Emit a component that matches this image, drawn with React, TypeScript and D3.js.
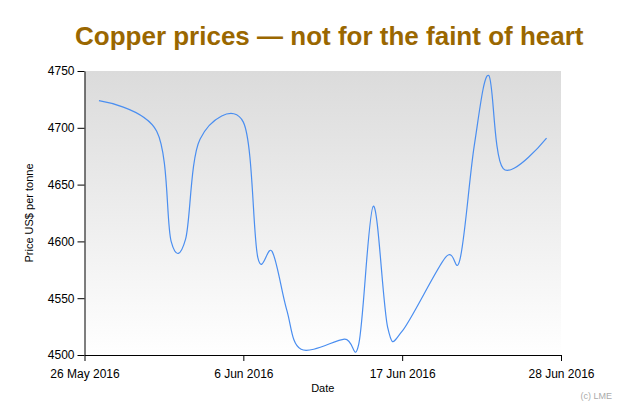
import React, { useEffect, useRef } from "react";
import * as d3 from "d3";

const dates: string[] = [
  "2016-05-27", "2016-05-31", "2016-06-01", "2016-06-02", "2016-06-03",
  "2016-06-06", "2016-06-07", "2016-06-08", "2016-06-09", "2016-06-10",
  "2016-06-13", "2016-06-14", "2016-06-15", "2016-06-16", "2016-06-17",
  "2016-06-20", "2016-06-21", "2016-06-22", "2016-06-23", "2016-06-24",
  "2016-06-27",
];
const prices: number[] = [
  4724, 4697, 4600, 4602, 4690,
  4705, 4586, 4591, 4540, 4505,
  4514, 4510, 4631, 4524, 4521,
  4586, 4584, 4685, 4746, 4664,
  4691,
];
const xTickDates: string[] = ["2016-05-26", "2016-06-06", "2016-06-17", "2016-06-28"];
const yTicks: number[] = [4500, 4550, 4600, 4650, 4700, 4750];

const W = 627;
const H = 405;
const M = { left: 84.5, top: 71, right: 66, bottom: 50 };

export default function App() {
  const ref = useRef<SVGSVGElement>(null);
  useEffect(() => {
    const svg = d3.select(ref.current);
    svg.selectAll("*").remove();
    const parse = d3.utcParse("%Y-%m-%d");
    const iw = W - M.left - M.right;
    const ih = H - M.top - M.bottom;
    const x = d3.scaleUtc().domain([parse(xTickDates[0])!, parse(xTickDates[3])!]).range([0, iw]);
    const y = d3.scaleLinear().domain([4500, 4750]).range([ih, 0]);

    const defs = svg.append("defs");
    const grad = defs.append("linearGradient").attr("id", "bg").attr("x1", 0).attr("y1", 0).attr("x2", 0).attr("y2", 1);
    grad.append("stop").attr("offset", "0%").attr("stop-color", "#dbdbdb");
    grad.append("stop").attr("offset", "100%").attr("stop-color", "#ffffff");

    svg.append("text")
      .attr("x", 75).attr("y", 45)
      .attr("font-family", "'Liberation Sans', Arial, sans-serif")
      .attr("font-weight", "bold").attr("font-size", 26)
      .attr("fill", "#9a6700")
      .text("Copper prices \u2014 not for the faint of heart");

    const g = svg.append("g").attr("transform", `translate(${M.left},${M.top})`);
    g.append("rect").attr("width", iw).attr("height", ih).attr("fill", "url(#bg)");

    const data = dates.map((d, i) => ({ d: parse(d)!, v: prices[i] }));
    const line = d3.line<{ d: Date; v: number }>()
      .x((p) => x(p.d)).y((p) => y(p.v))
      .curve(d3.curveCardinal.tension(0));
    g.append("path").datum(data).attr("d", line).attr("fill", "none")
      .attr("stroke", "#4a8ef0").attr("stroke-width", 1.2);

    const font = "'Liberation Sans', Arial, sans-serif";
    const xa = g.append("g").attr("transform", `translate(0,${ih})`)
      .call(d3.axisBottom(x).tickValues(xTickDates.map((s) => parse(s)!)).tickFormat(d3.utcFormat("%-d %b %Y") as any).tickSize(6).tickSizeOuter(0));
    const ya = g.append("g")
      .call(d3.axisLeft(y).tickValues(yTicks).tickFormat(d3.format("d")).tickSize(7).tickSizeOuter(0));
    [xa, ya].forEach((a) => {
      a.selectAll("text").attr("font-family", font).attr("font-size", 12).attr("fill", "#000");
      a.selectAll("line").attr("stroke", "#000");
      a.select(".domain").attr("stroke", "#000");
    });
    xa.selectAll("text").attr("dy", "1.2em");

    svg.append("text").attr("x", M.left + iw / 2).attr("y", 392).attr("text-anchor", "middle")
      .attr("font-family", font).attr("font-size", 11).text("Date");
    svg.append("text").attr("transform", `translate(33,${M.top + ih / 2}) rotate(-90)`)
      .attr("text-anchor", "middle").attr("font-family", font).attr("font-size", 11)
      .text("Price US$ per tonne");
    svg.append("text").attr("x", 612).attr("y", 399).attr("text-anchor", "end")
      .attr("font-family", font).attr("font-size", 9).attr("fill", "#aaa").text("(c) LME");
  }, []);
  return (
    <div style={{ position: "absolute", left: 0, top: 0 }}>
      <svg ref={ref} width={W} height={H} style={{ display: "block" }} />
    </div>
  );
}
